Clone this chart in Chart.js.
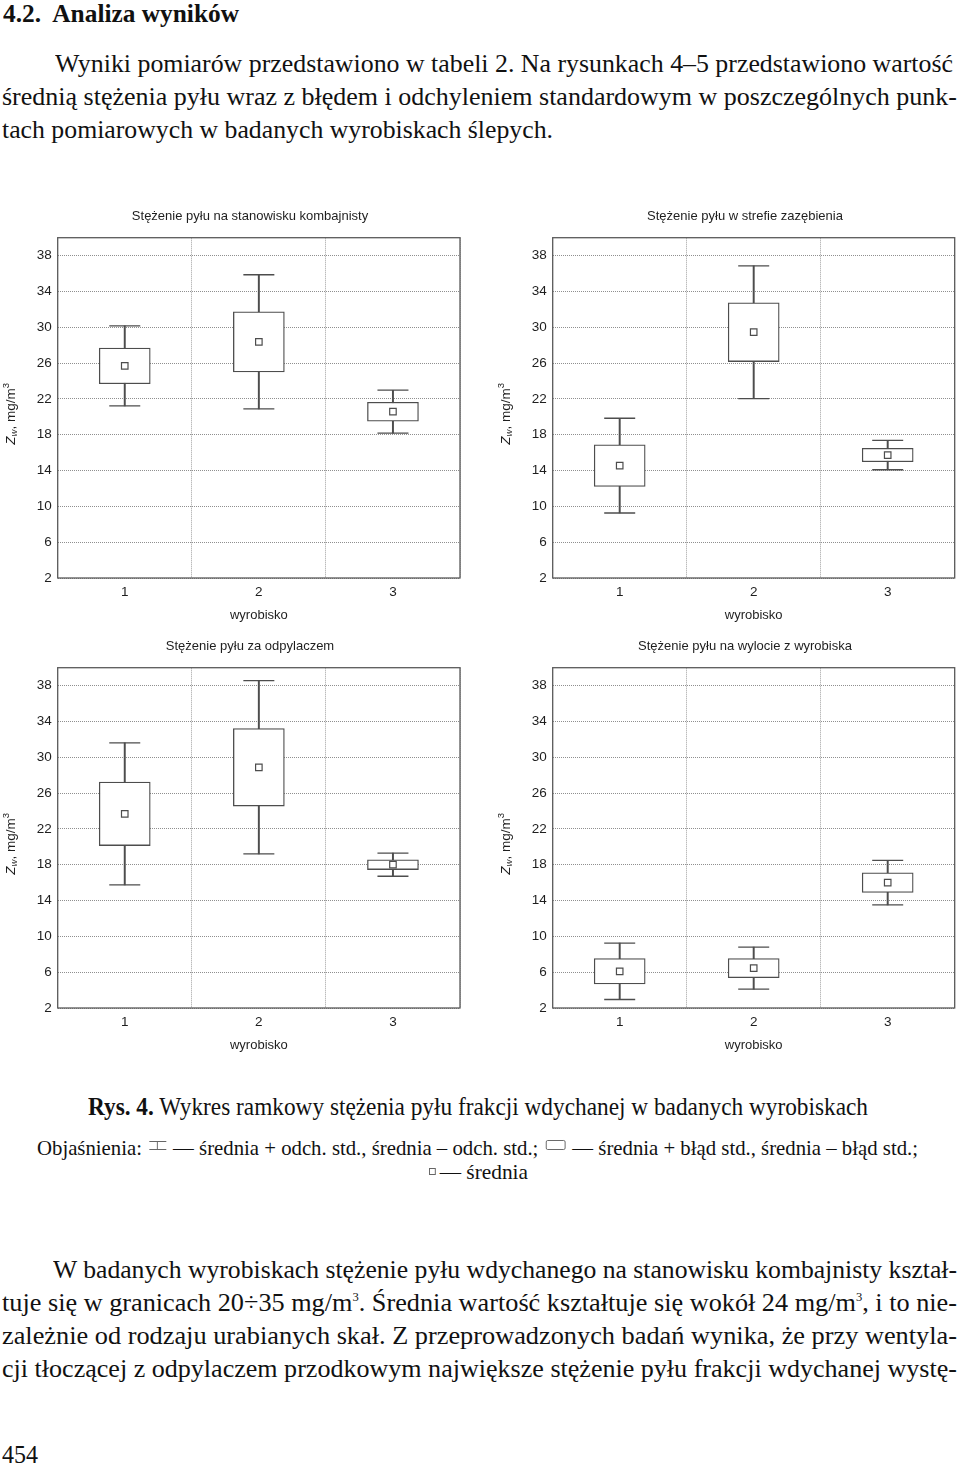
<!DOCTYPE html>
<html lang="pl">
<head>
<meta charset="utf-8">
<script src="https://cdn.jsdelivr.net/npm/chart.js@4.4.0/dist/chart.umd.min.js"></script>
<style>
  html, body { margin: 0; padding: 0; width: 960px; height: 1467px; overflow: hidden; background: #fff; }
  .ln { position: absolute; white-space: nowrap; font-family: "Liberation Serif", "Times New Roman", serif;
        font-size: 25px; line-height: 28px; color: #111; transform-origin: 0 50%; }
  .ln sup { font-size: 12px; line-height: 0; vertical-align: 10px; }
  .leg { font-size: 22px; }
  canvas { position: absolute; }
  .ic-whisk { display: inline-block; position: relative; width: 18px; height: 7px; border-top: 1px solid #666;
              border-bottom: 1px solid #666; vertical-align: 5px; margin: 0 2px; }
  .ic-whisk span { position: absolute; left: 8.5px; top: 0; width: 1px; height: 7px; background: #666; }
  .ic-box { display: inline-block; width: 19px; height: 8px; border: 1px solid #666; border-radius: 2px;
            vertical-align: 5px; margin: 0 2px; }
  .ic-mean { display: inline-block; width: 5px; height: 5px; border: 1px solid #666; vertical-align: 4px; margin-right: 4px; }
</style>
</head>
<body>

<div class="ln" style="left:3px; top:0px;" data-w="236"><b>4.2.&nbsp; Analiza wyników</b></div>
<div class="ln" style="left:55px; top:50px;" data-w="898">Wyniki pomiarów przedstawiono w tabeli 2. Na rysunkach 4–5 przedstawiono wartość</div>
<div class="ln" style="left:2px; top:83px;" data-w="955">średnią stężenia pyłu wraz z błędem i odchyleniem standardowym w poszczególnych punk-</div>
<div class="ln" style="left:2px; top:116px;" data-w="551">tach pomiarowych w badanych wyrobiskach ślepych.</div>

<canvas id="c1" width="500" height="440" style="left:0px; top:195px;"></canvas>
<canvas id="c2" width="510" height="440" style="left:490px; top:195px;"></canvas>
<canvas id="c3" width="500" height="440" style="left:0px; top:625px;"></canvas>
<canvas id="c4" width="510" height="440" style="left:490px; top:625px;"></canvas>

<div class="ln" style="left:88px; top:1093px;" data-w="780"><b>Rys. 4.</b> Wykres ramkowy stężenia pyłu frakcji wdychanej w badanych wyrobiskach</div>
<div class="ln leg" style="left:37px; top:1134px;" data-w="881">Objaśnienia: <span class="ic-whisk"><span></span></span> — średnia + odch. std., średnia – odch. std.; <span class="ic-box"></span> — średnia + błąd std., średnia – błąd std.;</div>
<div class="ln leg" style="left:429px; top:1158px;" data-w="99"><span class="ic-mean"></span>— średnia</div>

<div class="ln" style="left:53px; top:1256px;" data-w="904">W badanych wyrobiskach stężenie pyłu wdychanego na stanowisku kombajnisty kształ-</div>
<div class="ln" style="left:2px; top:1289px;" data-w="955">tuje się w granicach 20÷35 mg/m<sup>3</sup>. Średnia wartość kształtuje się wokół 24 mg/m<sup>3</sup>, i to nie-</div>
<div class="ln" style="left:2px; top:1322px;" data-w="955">zależnie od rodzaju urabianych skał. Z przeprowadzonych badań wynika, że przy wentyla-</div>
<div class="ln" style="left:2px; top:1355px;" data-w="955">cji tłoczącej z odpylaczem przodkowym największe stężenie pyłu frakcji wdychanej wystę-</div>
<div class="ln" style="left:2px; top:1441px;" data-w="36">454</div>

<script>
// dane: srednia, blad std. (ramka), odch. std. (wasy)
const wyrobiska = ['1', '2', '3'];
const yTicks = [2, 6, 10, 14, 18, 22, 26, 30, 34, 38];

const kombajnistaSrednia = [25.68, 28.37, 20.57];
const kombajnistaBlad = [1.99, 3.35, 1.06];
const kombajnistaOdch = [4.47, 7.49, 2.40];

const zazebienieSrednia = [14.55, 29.45, 15.73];
const zazebienieBlad = [2.33, 3.28, 0.75];
const zazebienieOdch = [5.29, 7.41, 1.64];

const odpylaczSrednia = [23.68, 28.88, 18.00];
const odpylaczBlad = [3.54, 4.33, 0.54];
const odpylaczOdch = [7.93, 9.68, 1.29];

const wylotSrednia = [6.10, 6.45, 16.00];
const wylotBlad = [1.42, 1.07, 1.10];
const wylotOdch = [3.15, 2.34, 2.48];

// rozciagniecie linii tekstu do szerokosci jak na skanie
document.querySelectorAll('.ln').forEach(el => {
    const w = parseFloat(el.dataset.w);
    const nat = el.getBoundingClientRect().width;
    el.style.transform = 'scaleX(' + (w / nat) + ')';
});

Chart.defaults.font.family = '"Liberation Sans", Arial, sans-serif';
Chart.defaults.color = '#1e1e1e';

const LINE = '#4d4d4d';

// ramka wokol obszaru wykresu + opis osi Y z indeksami
const ramkaPlugin = {
    id: 'ramka',
    afterDatasetsDraw(chart) {
        const a = chart.chartArea;
        const ctx = chart.ctx;
        ctx.save();
        ctx.strokeStyle = '#5a5a5a';
        ctx.lineWidth = 1.3;
        ctx.strokeRect(a.left, a.top, a.right - a.left, a.bottom - a.top);
        ctx.restore();
    },
    afterDraw(chart) {
        const a = chart.chartArea;
        const ctx = chart.ctx;
        const big = '13.5px "Liberation Sans", Arial, sans-serif';
        const bigI = 'italic 13.5px "Liberation Sans", Arial, sans-serif';
        const small = '9.5px "Liberation Sans", Arial, sans-serif';
        const smallI = 'italic 9.5px "Liberation Sans", Arial, sans-serif';
        const parts = [
            {t: 'Z', f: bigI, dy: 0},
            {t: 'w', f: smallI, dy: 3},
            {t: ', mg/m', f: big, dy: 0},
            {t: '3', f: small, dy: -5}
        ];
        ctx.save();
        let total = 0;
        parts.forEach(p => { ctx.font = p.f; p.w = ctx.measureText(p.t).width; total += p.w; });
        ctx.translate(a.left - 46.5, (a.top + a.bottom) / 2 + 6);
        ctx.rotate(-Math.PI / 2);
        ctx.fillStyle = '#1e1e1e';
        ctx.textBaseline = 'middle';
        ctx.textAlign = 'left';
        let x = -total / 2;
        parts.forEach(p => { ctx.font = p.f; ctx.fillText(p.t, x, p.dy); x += p.w; });
        ctx.restore();
    }
};

function rysuj(id, tytul, srednia, blad, odch, yWidth, rightWidth) {
    const ramki = srednia.map((m, i) => [m - blad[i], m + blad[i]]);
    const wasy = srednia.map((m, i) => [m - odch[i], m + odch[i]]);
    const wasGora = srednia.map((m, i) => m + odch[i]);
    const wasDol = srednia.map((m, i) => m - odch[i]);

    new Chart(document.getElementById(id), {
        type: 'bar',
        data: {
            labels: wyrobiska,
            datasets: [
                {
                    type: 'line', label: 'średnia', data: srednia, order: 0,
                    showLine: false, pointStyle: 'rect', pointRadius: 4.6,
                    pointBackgroundColor: '#fff', pointBorderColor: LINE, pointBorderWidth: 1.2
                },
                {
                    label: 'błąd std.', data: ramki, order: 1, grouped: false,
                    barThickness: 51, backgroundColor: '#fff', borderColor: LINE,
                    borderWidth: 1.3, borderSkipped: false
                },
                {
                    label: 'odch. std.', data: wasy, order: 2, grouped: false,
                    barThickness: 1.3, backgroundColor: LINE, borderWidth: 0
                },
                {
                    type: 'line', label: 'max', data: wasGora, order: 3,
                    showLine: false, pointStyle: 'line', pointRadius: 15.5,
                    pointBorderColor: LINE, pointBorderWidth: 1.3
                },
                {
                    type: 'line', label: 'min', data: wasDol, order: 3,
                    showLine: false, pointStyle: 'line', pointRadius: 15.5,
                    pointBorderColor: LINE, pointBorderWidth: 1.3
                }
            ]
        },
        options: {
            responsive: false,
            animation: false,
            events: [],
            layout: { padding: { left: 0, right: 0, top: 13.5, bottom: 0 } },
            plugins: {
                legend: { display: false },
                tooltip: { enabled: false },
                title: {
                    display: true, text: tytul, color: '#1e1e1e',
                    font: { size: 13, weight: 'normal' },
                    padding: { top: 0, bottom: 13.6 }
                }
            },
            scales: {
                x: {
                    offset: true,
                    grid: { offset: true, color: '#a0a0a0', lineWidth: 1, drawTicks: false },
                    border: { display: false, dash: [1, 1] },
                    ticks: { padding: 6, font: { size: 13.5 } },
                    title: { display: true, text: 'wyrobisko', font: { size: 13 }, padding: { top: 0, bottom: 11.5 } },
                    afterFit(axis) { axis.height = 57; }
                },
                y: {
                    min: 2, max: 40,
                    afterBuildTicks(axis) { axis.ticks = yTicks.map(v => ({ value: v })); },
                    grid: { color: '#8f8f8f', lineWidth: 1, drawTicks: false },
                    border: { display: false, dash: [1, 1] },
                    ticks: { padding: 6, font: { size: 13.5 } },
                    afterFit(axis) { axis.width = yWidth; }
                },
                // pusta os po prawej - tylko margines
                yPrawa: {
                    position: 'right', min: 2, max: 40,
                    grid: { display: false },
                    border: { display: false },
                    ticks: { display: false },
                    afterFit(axis) { axis.width = rightWidth; }
                }
            }
        },
        plugins: [ramkaPlugin]
    });
}

rysuj('c1', 'Stężenie pyłu na stanowisku kombajnisty', kombajnistaSrednia, kombajnistaBlad, kombajnistaOdch, 57.7, 40);
rysuj('c2', 'Stężenie pyłu w strefie zazębienia', zazebienieSrednia, zazebienieBlad, zazebienieOdch, 62.7, 45.3);
rysuj('c3', 'Stężenie pyłu za odpylaczem', odpylaczSrednia, odpylaczBlad, odpylaczOdch, 57.7, 40);
rysuj('c4', 'Stężenie pyłu na wylocie z wyrobiska', wylotSrednia, wylotBlad, wylotOdch, 62.7, 45.3);
</script>
</body>
</html>
